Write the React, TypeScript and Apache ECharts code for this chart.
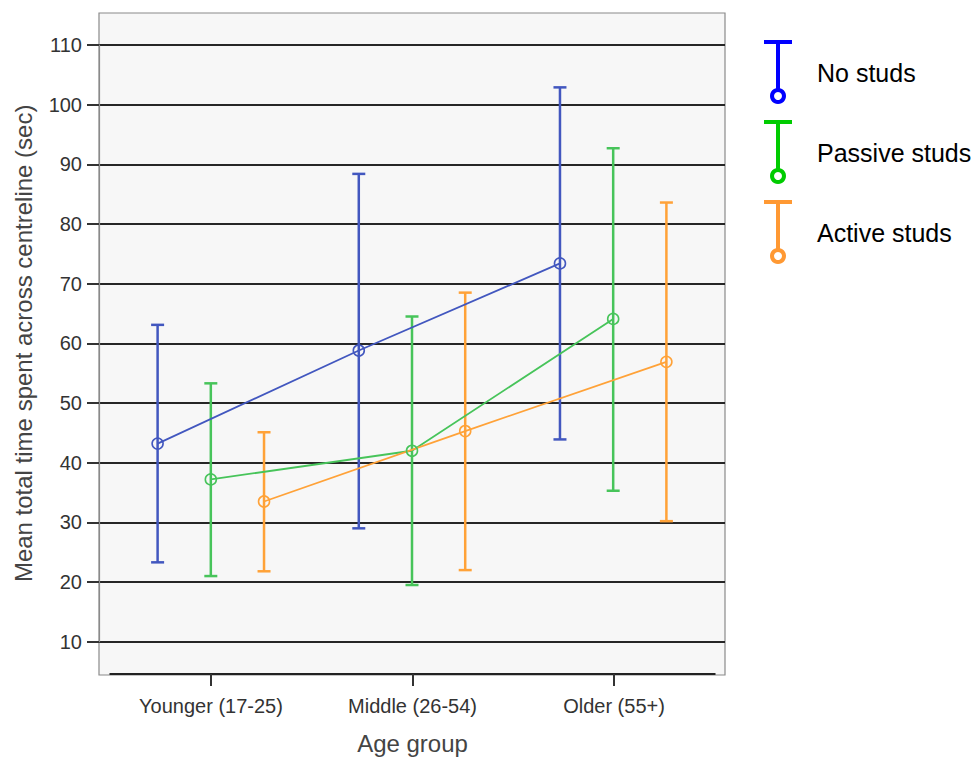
import React, { useEffect, useRef } from 'react';
import * as echarts from 'echarts';

const categories = ['Younger (17-25)', 'Middle (26-54)', 'Older (55+)'];
const groupNames = ['No studs', 'Passive studs', 'Active studs'];

const noStudsMean = [43.2, 58.8, 73.4];
const noStudsLow = [23.3, 29.0, 43.9];
const noStudsHigh = [63.1, 88.4, 102.9];

const passiveMean = [37.2, 42.0, 64.1];
const passiveLow = [21.0, 19.5, 35.3];
const passiveHigh = [53.3, 64.5, 92.7];

const activeMean = [33.5, 45.3, 56.9];
const activeLow = [21.8, 22.0, 30.2];
const activeHigh = [45.1, 68.5, 83.6];

const yMin = 10;
const yMax = 110;
const yStep = 10;

const lineColors = ['#4257bf', '#47c45a', '#ffa238'];
const legendColors = ['#0000ff', '#00cc00', '#ff9933'];
const groupOffsets = [-0.2645, 0, 0.2645];

const FONT = '"Liberation Sans", Arial, sans-serif';

function App() {
  const chartRef = useRef(null);

  useEffect(() => {
    if (!chartRef.current) return;
    const chart = echarts.init(chartRef.current, null, { renderer: 'svg' });

    const means = [noStudsMean, passiveMean, activeMean];
    const lows = [noStudsLow, passiveLow, activeLow];
    const highs = [noStudsHigh, passiveHigh, activeHigh];

    const errorSeries = groupNames.map((name, g) => ({
      name: name + ' CI',
      type: 'custom',
      xAxisIndex: 0,
      yAxisIndex: 0,
      z: 3,
      data: categories.map((_, i) => [i + groupOffsets[g], lows[g][i], highs[g][i]]),
      encode: { x: 0, y: [1, 2] },
      renderItem: (params, api) => {
        const x = api.value(0);
        const top = api.coord([x, api.value(2)]);
        const bot = api.coord([x, api.value(1)]);
        const style = { stroke: lineColors[g], lineWidth: 2.5 };
        const cap = 6.5;
        return {
          type: 'group',
          children: [
            { type: 'line', shape: { x1: top[0], y1: top[1], x2: bot[0], y2: bot[1] }, style },
            { type: 'line', shape: { x1: top[0] - cap, y1: top[1], x2: top[0] + cap, y2: top[1] }, style },
            { type: 'line', shape: { x1: bot[0] - cap, y1: bot[1], x2: bot[0] + cap, y2: bot[1] }, style },
          ],
        };
      },
    }));

    const meanSeries = groupNames.map((name, g) => ({
      name,
      type: 'line',
      xAxisIndex: 0,
      yAxisIndex: 0,
      z: 4,
      data: categories.map((_, i) => [i + groupOffsets[g], means[g][i]]),
      symbol: 'circle',
      symbolSize: 11,
      itemStyle: { color: 'rgba(0,0,0,0)', borderColor: lineColors[g], borderWidth: 1.6 },
      lineStyle: { color: lineColors[g], width: 1.8 },
    }));

    // legend drawn by hand: error-bar glyph + label
    const legendItems = [];
    groupNames.forEach((name, g) => {
      const dy = 80 * g;
      const c = legendColors[g];
      legendItems.push(
        { type: 'line', shape: { x1: 778, y1: 42 + dy, x2: 778, y2: 90 + dy }, style: { stroke: c, lineWidth: 4 } },
        { type: 'line', shape: { x1: 764, y1: 42 + dy, x2: 792, y2: 42 + dy }, style: { stroke: c, lineWidth: 4 } },
        { type: 'circle', shape: { cx: 778, cy: 96 + dy, r: 6 }, style: { fill: '#fff', stroke: c, lineWidth: 4 } },
        {
          type: 'text',
          x: 817,
          y: 73 + dy,
          style: { text: name, fill: '#000', font: '25px ' + FONT, verticalAlign: 'middle', align: 'left' },
        },
      );
    });

    const options = {
      animation: false,
      textStyle: { fontFamily: FONT },
      grid: [
        { left: 99, right: 250, top: 45, bottom: 118.3, containLabel: false },
        { left: 110.25, right: 260.25, top: 45, bottom: 118.3, containLabel: false },
      ],
      graphic: [
        {
          type: 'rect',
          z: -10,
          silent: true,
          shape: { x: 99, y: 13, width: 626, height: 662 },
          style: { fill: '#f7f7f7', stroke: '#8a8a8a', lineWidth: 1.2 },
        },
        ...legendItems,
      ],
      xAxis: [
        { type: 'value', gridIndex: 0, min: -0.5558, max: 2.5558, show: false },
        {
          type: 'category',
          gridIndex: 1,
          data: categories,
          offset: 33.3,
          boundaryGap: true,
          axisLine: { show: true, onZero: false, lineStyle: { color: '#222', width: 2 } },
          axisTick: { show: true, alignWithLabel: true, length: 12, lineStyle: { color: '#333', width: 2 } },
          axisLabel: { color: '#333', fontSize: 20, margin: 22, fontFamily: FONT },
          name: 'Age group',
          nameLocation: 'middle',
          nameGap: 57,
          nameTextStyle: { color: '#444', fontSize: 24, fontFamily: FONT },
          splitLine: { show: false },
        },
      ],
      yAxis: [
        {
          type: 'value',
          gridIndex: 0,
          min: yMin,
          max: yMax,
          interval: yStep,
          axisLine: { show: true, onZero: false, lineStyle: { color: '#8a8a8a', width: 1.2 } },
          axisTick: { show: true, inside: false, length: 12, lineStyle: { color: '#333', width: 2 } },
          axisLabel: { color: '#333', fontSize: 20, margin: 17, fontFamily: FONT },
          splitLine: { show: true, lineStyle: { color: '#262626', width: 2 } },
          name: 'Mean total time spent across centreline (sec)',
          nameLocation: 'middle',
          nameRotate: 90,
          nameGap: 64,
          nameTextStyle: { color: '#444', fontSize: 24, fontFamily: FONT },
        },
        { type: 'value', gridIndex: 1, min: yMin, max: yMax, interval: yStep, show: false },
      ],
      series: [...errorSeries, ...meanSeries],
    };

    chart.setOption(options);

    return () => {
      chart.dispose();
    };
  }, []);

  return (
    <div
      ref={chartRef}
      style={{ position: 'absolute', left: 0, top: 0, width: '975px', height: '760px', background: '#fff' }}
    />
  );
}

export default App;
